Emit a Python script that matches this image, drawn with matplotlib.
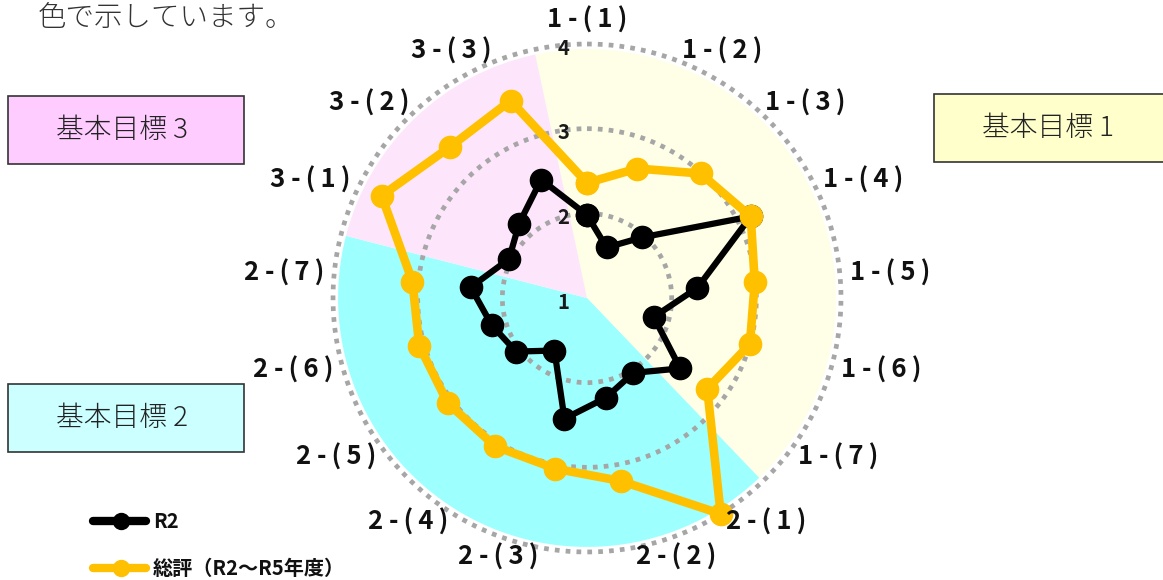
import numpy as np
import matplotlib
matplotlib.use("Agg")
import matplotlib.pyplot as plt
from matplotlib.patches import Rectangle
from matplotlib.lines import Line2D

plt.rcParams['font.family'] = ['Noto Sans CJK JP', 'DejaVu Sans']

# ---------------- data ----------------
categories = ["1-(1)", "1-(2)", "1-(3)", "1-(4)", "1-(5)", "1-(6)", "1-(7)",
              "2-(1)", "2-(2)", "2-(3)", "2-(4)", "2-(5)", "2-(6)", "2-(7)",
              "3-(1)", "3-(2)", "3-(3)"]
r2_values = [1.98, 1.64, 1.97, 3.16, 2.31, 1.82, 2.38,
             2.04, 2.20, 2.45, 1.73, 2.05, 2.17, 2.38,
             2.03, 2.19, 2.50]
total_values = [2.36, 2.64, 2.99, 3.16, 2.99, 3.00, 2.78,
                4.00, 3.20, 3.05, 3.06, 3.06, 3.06, 3.07,
                3.71, 3.41, 3.50]
series_names = ["R2", "総評（R2～R5年度）"]
goal_names = ["基本目標 1", "基本目標 2", "基本目標 3"]
goal_sizes = [7, 7, 3]
ring_ticks = [1, 2, 3, 4]

# ---------------- figure ----------------
W, H = 1163, 580
fig = plt.figure(figsize=(W / 100, H / 100), dpi=100)
fig.patch.set_facecolor("white")


def fx(px):
    return px / W


def fy(py):
    return 1 - py / H


cx, cy, R = 587, 298, 254
ax = fig.add_axes([fx(cx - R), fy(cy + R), 2 * R / W, 2 * R / H], projection="polar")
ax.set_theta_zero_location("N")
ax.set_theta_direction(-1)
ax.set_ylim(1, 4)
ax.set_facecolor("none")
ax.grid(False)
ax.spines["polar"].set_visible(False)
ax.set_xticks([])
ax.set_yticks([])

n = len(categories)
step = 2 * np.pi / n
theta = np.arange(n) * step

# background sectors for the goals
sector_colors = ["#FFFEE6", "#9EFFFF", "#FDE6FB"]
start = -np.deg2rad(12.0)
for size, col in zip(goal_sizes, sector_colors):
    width = size * step
    ax.bar(start + width / 2, 3.94 - 1, width=width, bottom=1, color=col,
           edgecolor="none", zorder=0, align="center")
    start += width

# dotted ring gridlines
tt = np.linspace(0, 2 * np.pi, 400)
for v in ring_ticks[1:]:
    ax.plot(tt, np.full_like(tt, v), color="#A6A6A6", lw=3.4,
            linestyle=(0, (1.0, 1.3)), dash_capstyle="butt", zorder=1,
            clip_on=False)

# series
th_closed = np.append(theta, theta[0])
ax.plot(th_closed, np.append(r2_values, r2_values[0]), color="black", lw=4.5,
        marker="o", markersize=16, zorder=3, clip_on=False)
ax.plot(th_closed, np.append(total_values, total_values[0]), color="#FFC000", lw=6.2,
        marker="o", markersize=16, zorder=4, clip_on=False)

# ring labels
for v in ring_ticks:
    ax.annotate(str(v), xy=(0, v), xytext=(-17, -3), textcoords="offset points",
                ha="center", va="center", fontsize=14.5, fontweight="bold",
                color="#1a1a1a", zorder=6)

# category labels
ts = "\u2009"
for t, lab in zip(theta, categories):
    s, c = np.sin(t), np.cos(t)
    if abs(s) < 0.05:
        ha = "center"
    elif s > 0:
        ha = "left"
    else:
        ha = "right"
    va = "bottom" if c > 0.95 else "center"
    major, minor = lab.split("-")
    txt = major + " -" + ts + "(" + ts + minor[1:-1] + ts + ")"
    ax.text(t, 4.12, txt, ha=ha, va=va, fontsize=18.5, fontweight="bold",
            color="#111111", zorder=6)

# top text
fig.text(fx(38), fy(18), "色で示しています。", ha="left", va="center",
         fontsize=20.5, color="#333333", fontweight="light")

# goal boxes
boxes = [(934, 94, 240, 68, "#FFFFCC", goal_names[0]),
         (8, 384, 236, 68, "#CCFFFF", goal_names[1]),
         (8, 96, 236, 68, "#FFCCFF", goal_names[2])]
for x0, y0, w, h, col, name in boxes:
    fig.add_artist(Rectangle((fx(x0), fy(y0 + h)), w / W, h / H,
                             transform=fig.transFigure, facecolor=col,
                             edgecolor="#333333", lw=1.2))
    fig.text(fx(x0 + 114), fy(y0 + h / 2), name, ha="center", va="center",
             fontsize=20, color="#222222", fontweight="light")

# legend (drawn manually)
leg_items = [(521, "black", 6.0), (568, "#FFC000", 6.0)]
for (ly, col, lw), name in zip(leg_items, series_names):
    fig.add_artist(Line2D([fx(93), fx(146)], [fy(ly), fy(ly)], color=col, lw=lw,
                          solid_capstyle="round", transform=fig.transFigure))
    fig.add_artist(Line2D([fx(121)], [fy(ly)], color=col, marker="o",
                          markersize=11.5, transform=fig.transFigure))
    fig.text(fx(153), fy(ly), name, ha="left", va="center", fontsize=14.5,
             fontweight="bold", color="#111111")

fig.savefig("out.png", dpi=100)
